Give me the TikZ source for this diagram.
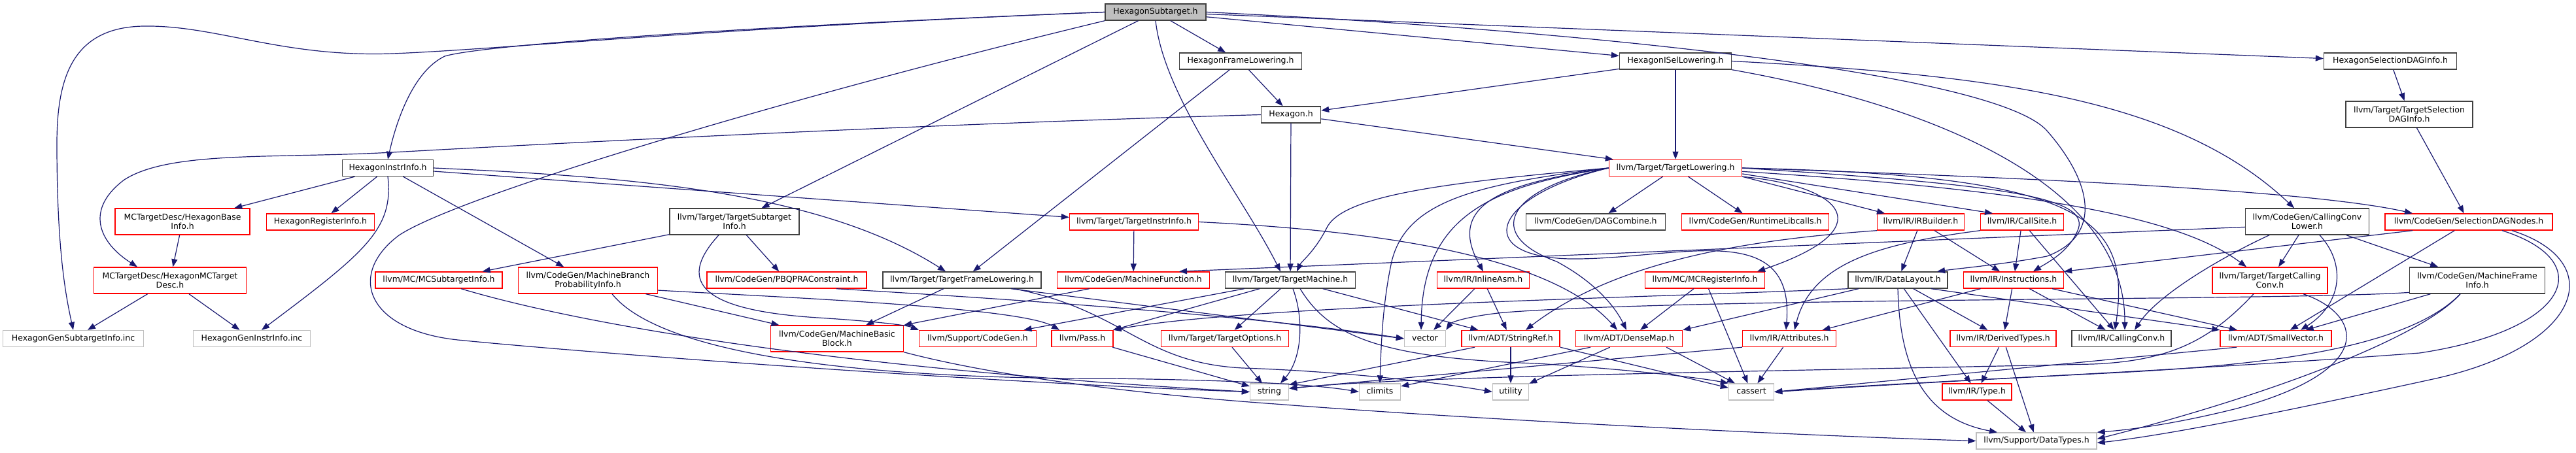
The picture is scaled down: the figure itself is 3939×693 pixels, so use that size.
\documentclass[tikz,border=0pt]{standalone}
\usepackage{fontspec}
\setmainfont{DejaVu Sans}
\usetikzlibrary{arrows.meta}
\definecolor{edgeblue}{HTML}{191970}
\definecolor{nodered}{HTML}{FF0000}
\definecolor{nodegray}{HTML}{BFBFBF}
\definecolor{nodeblack}{HTML}{404040}
\newcommand\ndfont{\fontsize{12.5pt}{14pt}\selectfont}
\tikzset{
 nbox/.style={rectangle, inner sep=0pt, font=\ndfont, line width=1.4pt},
 one/.style={nbox, minimum height=25pt, text height=9.5pt, text depth=2.8pt},
 two/.style={nbox, minimum height=40pt, align=center},
 root/.style={one, draw=nodeblack, fill=nodegray},
 blk/.style={one, draw=nodeblack},
 blk2/.style={two, draw=nodeblack},
 redb/.style={one, draw=nodered},
 redb2/.style={two, draw=nodered},
 gry/.style={one, draw=nodegray},
 dep/.style={draw=edgeblue, line width=1.2pt, -{Triangle[length=12pt,width=9pt]}},
}
\begin{document}
\begin{tikzpicture}[x=1pt,y=-1pt]
\useasboundingbox (0,0) rectangle (3939,693);
% nodes
\node[root, minimum width=154pt] (hs) at (1767,18.5) {HexagonSubtarget.h};
\node[blk, minimum width=187pt] (hfl) at (1897,93.5) {HexagonFrameLowering.h};
\node[blk, minimum width=171pt] (hisel) at (2562,93.5) {HexagonISelLowering.h};
\node[blk, minimum width=203pt] (hsdag) at (3655,93.5) {HexagonSelectionDAGInfo.h};
\node[blk, minimum width=91pt] (hex) at (1974,175.5) {Hexagon.h};
\node[blk2, minimum width=194pt] (tsdag) at (3684,175) {llvm/Target/TargetSelection\\DAGInfo.h};
\node[blk, minimum width=139pt] (hii) at (593,257) {HexagonInstrInfo.h};
\node[redb, minimum width=203pt] (tl) at (2562,257) {llvm/Target/TargetLowering.h};
\node[redb2, minimum width=206pt] (hbi) at (279,339) {MCTargetDesc/HexagonBase\\Info.h};
\node[redb, minimum width=165pt] (hri) at (490,339.5) {HexagonRegisterInfo.h};
\node[blk2, minimum width=198pt] (tsi) at (1123,339) {llvm/Target/TargetSubtarget\\Info.h};
\node[redb, minimum width=197pt] (tii) at (1734,339.5) {llvm/Target/TargetInstrInfo.h};
\node[blk, minimum width=213pt] (dagc) at (2440,339.5) {llvm/CodeGen/DAGCombine.h};
\node[redb, minimum width=225pt] (rtl) at (2684,339.5) {llvm/CodeGen/RuntimeLibcalls.h};
\node[redb, minimum width=133pt] (irb) at (2937,339.5) {llvm/IR/IRBuilder.h};
\node[redb, minimum width=127pt] (cs) at (3092,339.5) {llvm/IR/CallSite.h};
\node[blk2, minimum width=189pt] (ccl) at (3528,339) {llvm/CodeGen/CallingConv\\Lower.h};
\node[redb, minimum width=256pt] (sdn) at (3775,339.5) {llvm/CodeGen/SelectionDAGNodes.h};
\node[redb2, minimum width=233pt] (mctd) at (260,429) {MCTargetDesc/HexagonMCTarget\\Desc.h};
\node[redb, minimum width=194pt] (mcsti) at (671,428.5) {llvm/MC/MCSubtargetInfo.h};
\node[redb2, minimum width=213pt] (mbpi) at (899,429) {llvm/CodeGen/MachineBranch\\ProbabilityInfo.h};
\node[redb, minimum width=244pt] (pbqp) at (1203,428.5) {llvm/CodeGen/PBQPRAConstraint.h};
\node[blk, minimum width=242pt] (tfl) at (1471,428.5) {llvm/Target/TargetFrameLowering.h};
\node[redb, minimum width=233pt] (mf) at (1733,428.5) {llvm/CodeGen/MachineFunction.h};
\node[blk, minimum width=199pt] (tm) at (1973,428.5) {llvm/Target/TargetMachine.h};
\node[redb, minimum width=141pt] (ia) at (2268,428.5) {llvm/IR/InlineAsm.h};
\node[redb, minimum width=183pt] (mcri) at (2607,428.5) {llvm/MC/MCRegisterInfo.h};
\node[blk, minimum width=152pt] (dl) at (2902,428.5) {llvm/IR/DataLayout.h};
\node[redb, minimum width=153pt] (ins) at (3079,428.5) {llvm/IR/Instructions.h};
\node[redb2, minimum width=176pt] (tcc) at (3471,429) {llvm/Target/TargetCalling\\Conv.h};
\node[blk2, minimum width=207pt] (mfi) at (3788,429) {llvm/CodeGen/MachineFrame\\Info.h};
\node[gry, minimum width=215pt] (gsi) at (112,518) {HexagonGenSubtargetInfo.inc};
\node[gry, minimum width=179pt] (gii) at (385,518) {HexagonGenInstrInfo.inc};
\node[redb2, minimum width=203pt] (mbb) at (1280,518) {llvm/CodeGen/MachineBasic\\Block.h};
\node[redb, minimum width=179pt] (cg) at (1495,518) {llvm/Support/CodeGen.h};
\node[redb, minimum width=94pt] (pass) at (1655,518) {llvm/Pass.h};
\node[redb, minimum width=195pt] (topt) at (1873,518) {llvm/Target/TargetOptions.h};
\node[gry, minimum width=63pt] (vec) at (2179,518) {vector};
\node[redb, minimum width=150pt] (sr) at (2310,518) {llvm/ADT/StringRef.h};
\node[redb, minimum width=163pt] (dm) at (2491,518) {llvm/ADT/DenseMap.h};
\node[redb, minimum width=143pt] (attr) at (2736,518) {llvm/IR/Attributes.h};
\node[redb, minimum width=162pt] (dt) at (3063,518) {llvm/IR/DerivedTypes.h};
\node[blk, minimum width=152pt] (cc) at (3244,518) {llvm/IR/CallingConv.h};
\node[redb, minimum width=170pt] (sv) at (3480,518) {llvm/ADT/SmallVector.h};
\node[gry, minimum width=59pt] (str) at (1941,599.5) {string};
\node[gry, minimum width=63pt] (cl) at (2110,599.5) {climits};
\node[gry, minimum width=55pt] (ut) at (2310,599.5) {utility};
\node[gry, minimum width=69pt] (ca) at (2678,599.5) {cassert};
\node[redb, minimum width=106pt] (ty) at (3023,599.5) {llvm/IR/Type.h};
\node[gry, minimum width=184pt] (dtypes) at (3114,674.5) {llvm/Support/DataTypes.h};
% edges from HexagonSubtarget.h
\draw[dep] (hs) -- (hfl);
\draw[dep] (hs) -- (hisel);
\draw[dep] (hs) -- (hsdag);
\draw[dep] (hs.west) .. controls (1150,40) and (740,68) .. (680,86) .. controls (630,110) and (605,190) .. (hii.north);
\draw[dep] (hs.west) .. controls (1100,42) and (760,76) .. (600,82) .. controls (430,88) and (330,38) .. (219,40) .. controls (110,42) and (87,120) .. (87,220) .. controls (87,380) and (100,450) .. (gsi.north);
\draw[dep] (hs) -- (tsi);
\draw[dep] (hs.south) .. controls (1780,150) and (1900,300) .. ([xshift=-15pt]tm.north);
\draw[dep] (hs.east) .. controls (2400,45) and (3050,110) .. (3130,200) .. controls (3200,280) and (3215,360) .. (3130,392) .. controls (3060,405) and (3000,410) .. ([xshift=60pt]dl.north);
\draw[dep] (hs.south west) .. controls (1200,150) and (700,300) .. (610,360) .. controls (530,420) and (560,505) .. (700,520) .. controls (900,540) and (1500,585) .. (str.west);
% HexagonFrameLowering.h / ISelLowering / SelectionDAGInfo
\draw[dep] (hfl) -- (hex);
\draw[dep] (hfl) -- (tfl);
\draw[dep] (hisel) -- (hex);
\draw[dep] (hisel) -- (tl);
\draw[dep] (hisel.east) .. controls (3050,115) and (3330,150) .. ([xshift=-20pt]ccl.north);
\draw[dep] (hisel.south east) .. controls (2950,160) and (3250,280) .. ([xshift=5pt]cc.north);
\draw[dep] (hsdag) -- (tsdag);
\draw[dep] (tsdag) -- (sdn);
% Hexagon.h
\draw[dep] (hex) -- (tl);
\draw[dep] (hex) -- (tm);
\draw[dep] (hex.west) .. controls (1400,190) and (800,222) .. (600,233) .. controls (420,243) and (260,230) .. (190,275) .. controls (130,320) and (150,370) .. ([xshift=-50pt]mctd.north);
% HexagonInstrInfo.h
\draw[dep] (hii) -- (hbi);
\draw[dep] (hii) -- (hri);
\draw[dep] (hii.south) .. controls (602,350) and (560,385) .. ([xshift=15pt]gii.north);
\draw[dep] (hii) -- (mbpi);
\draw[dep] (hii) -- (tii);
\draw[dep] (hii.east) .. controls (950,270) and (1250,290) .. ([xshift=-25pt]tfl.north);
\draw[dep] (hbi) -- (mctd);
\draw[dep] (mctd) -- (gsi);
\draw[dep] (mctd) -- (gii);
% TargetSubtargetInfo.h
\draw[dep] (tsi) -- (mcsti);
\draw[dep] (tsi) -- (pbqp);
\draw[dep] ([xshift=-24pt]tsi.south) .. controls (1030,435) and (1080,475) .. (1250,486) .. controls (1330,491) and (1385,497) .. (cg.north west);
\draw[dep] ([xshift=34pt]mcsti.south) .. controls (900,500) and (1300,565) .. (str.west);
% MachineBranchProbabilityInfo.h
\draw[dep] (mbpi) -- (mbb);
\draw[dep] (mbpi.-8) .. controls (1200,455) and (1560,470) .. ([xshift=-35pt]pass.north);
\draw[dep] ([xshift=37pt]mbpi.south) .. controls (1000,530) and (1250,580) .. (1700,579) .. controls (1900,582) and (2010,588) .. (cl.west);
\draw[dep] ([xshift=76pt]pbqp.south) .. controls (1500,455) and (1900,480) .. (vec.west);
% TargetFrameLowering.h
\draw[dep] (tfl) -- (mbb);
\draw[dep] ([xshift=75pt]tfl.south) -- (vec.west);
\draw[dep] ([xshift=80pt]tfl.south) .. controls (1720,475) and (1745,555) .. (1900,563) .. controls (2050,568) and (2200,585) .. (ut.west);
\draw[dep] (mf) -- (mbb.north east);
\draw[dep] (tii) -- (mf);
\draw[dep] (tii.east) .. controls (2150,355) and (2380,400) .. ([xshift=-18pt]dm.north);
% TargetMachine.h
\draw[dep] (tm) -- (cg);
\draw[dep] (tm) -- (pass);
\draw[dep] (tm) -- (topt);
\draw[dep] (tm) -- (sr);
\draw[dep] ([xshift=15pt]tm.south) .. controls (2030,510) and (2100,548) .. (2350,556) .. controls (2500,566) and (2600,578) .. (ca.north west);
\draw[dep] ([xshift=4pt]tm.south) .. controls (1995,490) and (1990,550) .. ([xshift=17pt]str.north);
% TargetLowering.h
\draw[dep] (tl) -- (dagc);
\draw[dep] (tl) -- (rtl);
\draw[dep] (tl.south east) -- ([xshift=-55pt]irb.north);
\draw[dep] (tl.-5) -- ([xshift=-45pt]cs.north);
\draw[dep] (tl.south east) .. controls (2820,285) and (2880,350) .. ([xshift=80pt]mcri.north);
\draw[dep] (tl.east) .. controls (3200,275) and (3550,295) .. ([xshift=-86pt]sdn.north);
\draw[dep] (tl.-3) .. controls (3100,290) and (3330,330) .. ([xshift=-36pt]tcc.north);
\draw[dep] (tl.east) .. controls (3050,282) and (3195,300) .. (3178,350) .. controls (3165,385) and (3130,402) .. ([xshift=30pt]ins.north);
\draw[dep] (tl.east) .. controls (3180,268) and (3260,330) .. ([xshift=-10pt]cc.north);
\draw[dep] (tl.west) .. controls (2300,280) and (2210,312) .. (ia.north);
\draw[dep] (tl.west) .. controls (2200,280) and (2050,300) .. (2028,350) .. controls (2010,385) and (1990,400) .. ([xshift=10pt]tm.north);
\draw[dep] (tl.west) .. controls (2250,282) and (2150,310) .. (2128,400) .. controls (2115,460) and (2112,520) .. (cl.north);
\draw[dep] (tl.west) .. controls (2280,285) and (2175,330) .. ([xshift=-6pt]vec.north);
\draw[dep] (tl.west) .. controls (2300,290) and (2270,360) .. (2380,400) .. controls (2440,432) and (2470,470) .. ([xshift=-4pt]dm.north);
\draw[dep] (tl.west) .. controls (2280,300) and (2250,392) .. (2400,396) .. controls (2560,398) and (2745,330) .. ([xshift=-5pt]attr.north);
% InlineAsm, MCRegisterInfo, IRBuilder, CallSite
\draw[dep] (ia) -- (vec);
\draw[dep] (ia) -- (sr);
\draw[dep] (mcri) -- (dm);
\draw[dep] (mcri) -- (ca);
\draw[dep] (irb.south west) .. controls (2700,365) and (2480,392) .. ([xshift=23pt]sr.north);
\draw[dep] (irb) -- (dl);
\draw[dep] (irb) -- (ins);
\draw[dep] (cs) -- (ins);
\draw[dep] (cs) -- (cc);
\draw[dep] (cs.south west) .. controls (2880,372) and (2770,400) .. ([xshift=8pt]attr.north);
% DataLayout.h
\draw[dep] (dl.south west) .. controls (2500,456) and (1900,468) .. (pass.north east);
\draw[dep] ([xshift=-60pt]dl.south) -- (dm.north east);
\draw[dep] ([xshift=51pt]dl.south) -- (sv.north west);
\draw[dep] (dl) -- (dt);
\draw[dep] (dl) -- (ty);
\draw[dep] (dl.south) .. controls (2905,560) and (2940,640) .. ([xshift=-60pt]dtypes.north);
% Instructions.h
\draw[dep] (ins) -- (attr);
\draw[dep] (ins) -- (dt);
\draw[dep] (ins) -- (cc);
\draw[dep] (ins) -- (sv);
% Attributes, DerivedTypes, Type
\draw[dep] (attr) -- (ca);
\draw[dep] (attr.south west) -- (str.10);
\draw[dep] (dt) -- (ty);
\draw[dep] (dt) -- (dtypes);
\draw[dep] (ty) -- (dtypes);
% StringRef, DenseMap
\draw[dep] ([xshift=-55pt]sr.south) -- (str.20);
\draw[dep] (sr) -- (ut);
\draw[dep] (sr.south east) -- (ca.170);
\draw[dep] ([xshift=-59pt]dm.south) -- (cl.15);
\draw[dep] (dm) -- (ut);
\draw[dep] ([xshift=57pt]dm.south) -- (ca);
% MachineBasicBlock, Pass, TargetOptions
\draw[dep] (mbb.south east) .. controls (1500,570) and (1700,600) .. (1950,618) .. controls (2300,645) and (2800,668) .. (dtypes.west);
\draw[dep] (pass) -- (str);
\draw[dep] (topt) -- (str);
% TargetCallingConv.h
\draw[dep] ([xshift=-25pt]tcc.south) .. controls (3380,520) and (3320,552) .. (3200,557) .. controls (2600,570) and (2150,576) .. (str.10);
\draw[dep] ([xshift=51pt]tcc.south) .. controls (3610,480) and (3640,565) .. (3420,625) .. controls (3320,650) and (3250,658) .. (dtypes.north east);
% CallingConvLower.h
\draw[dep] (ccl.185) -- ([xshift=70pt]mf.north);
\draw[dep] ([xshift=-58pt]ccl.south) .. controls (3400,392) and (3300,450) .. ([xshift=20pt]cc.north);
\draw[dep] (ccl) -- (tcc);
\draw[dep] ([xshift=19pt]ccl.south) .. controls (3585,400) and (3585,462) .. ([xshift=38pt]sv.north);
\draw[dep] (ccl) -- (mfi);
% SelectionDAGNodes.h
\draw[dep] ([xshift=-86pt]sdn.south) -- (ins.north east);
\draw[dep] (sdn) -- (sv);
\draw[dep] ([xshift=51pt]sdn.south) .. controls (3975,400) and (3930,505) .. (3700,540) .. controls (3300,570) and (2900,585) .. (ca.east);
\draw[dep] ([xshift=66pt]sdn.south) .. controls (3990,400) and (3950,530) .. (3720,580) .. controls (3500,628) and (3320,665) .. ([yshift=-3pt]dtypes.east);
% MachineFrameInfo.h
\draw[dep] (mfi.190) .. controls (3500,460) and (2600,455) .. (2300,478) .. controls (2250,483) and (2220,492) .. (vec.north east);
\draw[dep] (mfi) -- (sv);
\draw[dep] ([xshift=-26pt]mfi.south) .. controls (3670,545) and (3400,562) .. (3200,572) .. controls (3000,582) and (2800,594) .. (ca.east);
\draw[dep] ([xshift=-26pt]mfi.south) .. controls (3700,520) and (3450,610) .. ([yshift=3pt]dtypes.east);
% SmallVector.h
\draw[dep] ([xshift=-60pt]sv.south) -- (ca.east);
\end{tikzpicture}
\end{document}
